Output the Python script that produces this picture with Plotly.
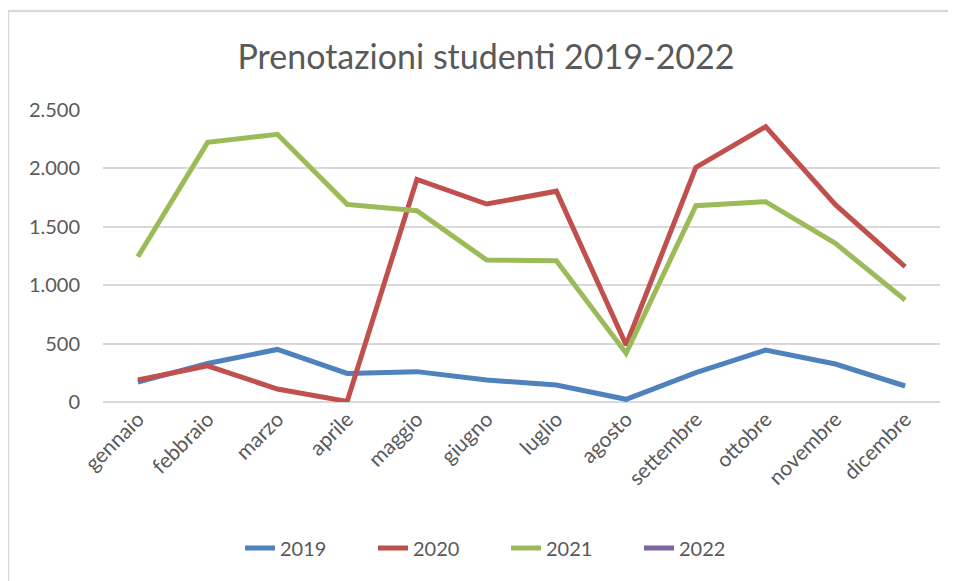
import plotly.graph_objects as go

mesi = ["gennaio", "febbraio", "marzo", "aprile", "maggio", "giugno",
        "luglio", "agosto", "settembre", "ottobre", "novembre", "dicembre"]

anno_2019 = [170, 330, 450, 245, 260, 188, 145, 23, 251, 445, 325, 137]
anno_2020 = [188, 310, 111, 5, 1906, 1695, 1805, 488, 2009, 2357, 1690, 1158]
anno_2021 = [1244, 2223, 2292, 1692, 1638, 1216, 1210, 417, 1681, 1715, 1358, 873]
anno_2022 = [None] * 12

serie = [
    ("2019", anno_2019, "#4F81BD"),
    ("2020", anno_2020, "#C0504D"),
    ("2021", anno_2021, "#9BBB59"),
    ("2022", anno_2022, "#8064A2"),
]

grigio = "#595959"
font_base = "Lato"

fig = go.Figure()
for nome, valori, colore in serie:
    fig.add_trace(go.Scatter(x=mesi, y=valori, mode="lines", name=nome,
                             line=dict(color=colore, width=5)))

# la pagina ha 8px di margine del body: l'area del grafico parte da (8, 8)
fig.update_layout(
    width=956, height=581,
    margin=dict(l=95, r=24, t=102, b=187),
    paper_bgcolor="white", plot_bgcolor="white",
    separators=",.",
    title=dict(text="Prenotazioni studenti 2019-2022", x=0.5, xanchor="center",
               y=0.916, yanchor="middle",
               font=dict(family=font_base, size=34, color=grigio)),
    legend=dict(orientation="h", x=(240 - 8 - 95) / 837, xanchor="left",
                y=-0.5, yanchor="middle",
                font=dict(family=font_base, size=20, color=grigio),
                entrywidth=88, entrywidthmode="pixels", tracegroupgap=0),
    showlegend=True,
)

fig.update_xaxes(range=[-0.5, 11.5], tickangle=-45, showgrid=False,
                 showline=False, ticks="",
                 tickfont=dict(family=font_base, size=21, color=grigio))
fig.update_yaxes(range=[0, 2500], dtick=500, tickformat=",",
                 gridcolor="#d9d9d9", gridwidth=1.5, zeroline=True,
                 zerolinecolor="#d9d9d9", zerolinewidth=1.5,
                 ticks="", ticklabelstandoff=22,
                 tickfont=dict(family=font_base, size=20, color=grigio))

# bordo dell'area grafico (sinistra e alto)
bx = (0 - 95) / 837
by = (394 - 3) / 292
fig.add_shape(type="line", xref="paper", yref="paper",
              x0=bx, x1=1.05, y0=by, y1=by,
              line=dict(color="#d9d9d9", width=2.5))
fig.add_shape(type="line", xref="paper", yref="paper",
              x0=bx, x1=bx, y0=by, y1=-0.7,
              line=dict(color="#d9d9d9", width=2.5))

fig.write_html("out.html")
